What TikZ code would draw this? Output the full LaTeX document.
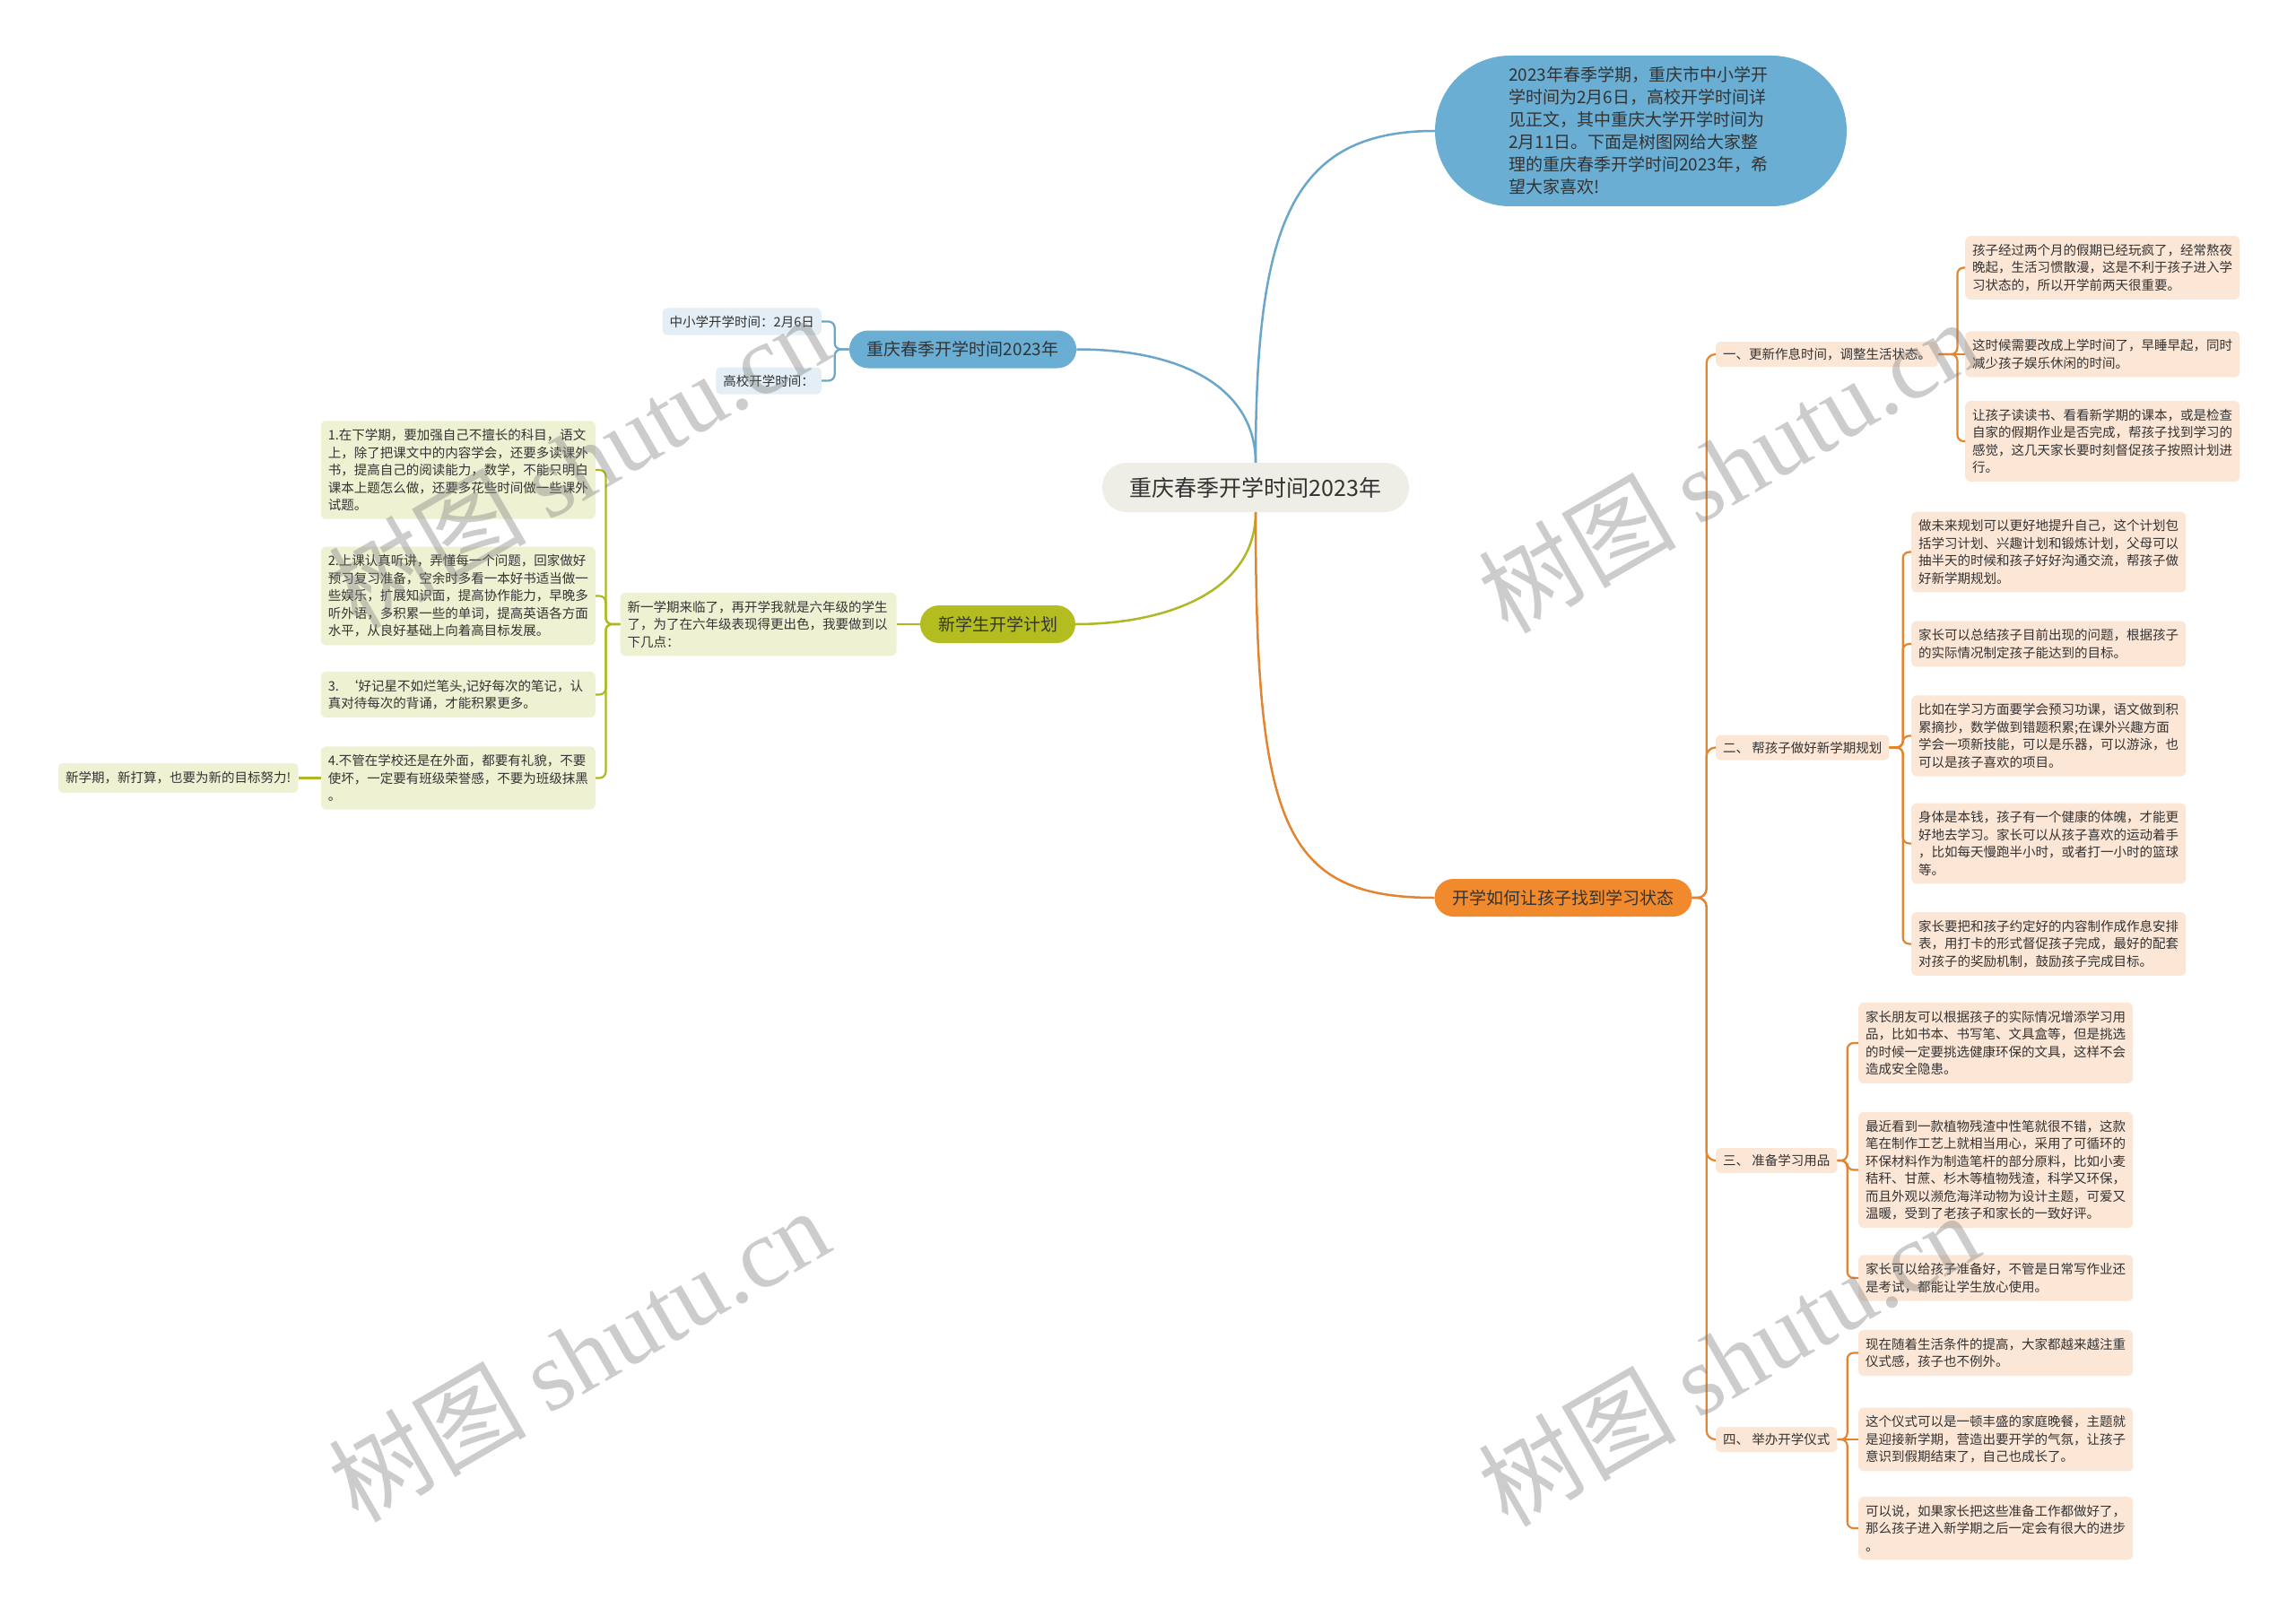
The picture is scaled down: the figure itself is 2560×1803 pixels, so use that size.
\documentclass[tikz,border=0pt]{standalone}
\usepackage{fontspec}
\setmainfont{Noto Sans CJK SC}
\newfontfamily\markfont{Liberation Serif}
\usetikzlibrary{positioning}

\definecolor{ink}{HTML}{333333}
\definecolor{rootfill}{HTML}{EEEDE6}
\definecolor{bluefill}{HTML}{6BAED3}
\definecolor{blueline}{HTML}{6AA6C9}
\definecolor{bluelight}{HTML}{E3EEF6}
\definecolor{greenfill}{HTML}{B4BD1F}
\definecolor{greenline}{HTML}{AFB823}
\definecolor{greenlight}{HTML}{EFF1D3}
\definecolor{orangefill}{HTML}{F08A2D}
\definecolor{orangeline}{HTML}{E3842F}
\definecolor{orangelight}{HTML}{FCE6D6}

\tikzset{
  topic/.style={
    rectangle, rounded corners=27pt, fill=rootfill,
    minimum width=342pt, minimum height=55pt,
    text=ink, font=\fontsize{25}{30}\selectfont
  },
  branch/.style={
    rectangle, rounded corners=21pt, fill=#1,
    inner xsep=20pt, minimum height=42pt, text=ink,
    font=\fontsize{19}{23}\selectfont
  },
  intro/.style={
    rectangle, rounded corners=84pt, fill=bluefill,
    minimum width=459pt, minimum height=168pt,
    text width=295pt, align=left, text=ink,
    font=\fontsize{19}{25}\selectfont
  },
  tag/.style={
    rectangle, rounded corners=5pt, fill=#1,
    inner xsep=8pt, minimum height=30pt, text=ink,
    font=\fontsize{14.5}{19.5}\selectfont
  },
  leaf/.style={
    rectangle, rounded corners=6pt, fill=#1,
    inner xsep=8pt, inner ysep=9pt,
    text width=290pt, align=left, text=ink,
    font=\fontsize{14.5}{19.5}\selectfont
  },
  link/.style={line width=2.5pt, draw=#1},
  brace/.style={line width=2.2pt, draw=#1, rounded corners=7pt},
  watermark/.style={
    text=gray, opacity=0.4, rotate=30,
    font=\fontsize{110}{120}\selectfont
  }
}

\begin{document}
\begin{tikzpicture}[x=1pt, y=-1pt]
  \fill[white] (0,0) rectangle (2560,1803);
  \useasboundingbox (0,0) rectangle (2560,1803);

  % centre and the summary bubble
  \node[topic] (root) at (1400,543.5) {重庆春季开学时间2023年};
  \node[intro] (about) at (1829.5,146) {2023年春季学期，重庆市中小学开\\学时间为2月6日，高校开学时间详\\见正文，其中重庆大学开学时间为\\2月11日。下面是树图网给大家整\\理的重庆春季开学时间2023年，希\\望大家喜欢!};

  % blue branch
  \node[branch=bluefill] (term) at (1073.5,389.5) {重庆春季开学时间2023年};
  \node[tag=bluelight, anchor=east] (primary) at (916,358.5) {中小学开学时间：2月6日};
  \node[tag=bluelight, anchor=east] (college) at (916,424.5) {高校开学时间：};

  % green branch
  \node[branch=greenfill] (plan) at (1112.5,696) {新学生开学计划};
  \node[leaf=greenlight, text width=292pt, left=26pt of plan] (planintro) {新一学期来临了，再开学我就是六年级的学生\\了，为了在六年级表现得更出色，我要做到以\\下几点：};
  \node[leaf=greenlight, anchor=east] (tip1) at (664,524) {1.在下学期，要加强自己不擅长的科目，语文\\上，除了把课文中的内容学会，还要多读课外\\书，提高自己的阅读能力，数学，不能只明白\\课本上题怎么做，还要多花些时间做一些课外\\试题。};
  \node[leaf=greenlight, anchor=east] (tip2) at (664,664.5) {2.上课认真听讲，弄懂每一个问题，回家做好\\预习复习准备，空余时多看一本好书适当做一\\些娱乐，扩展知识面，提高协作能力，早晚多\\听外语，多积累一些的单词，提高英语各方面\\水平，从良好基础上向着高目标发展。};
  \node[leaf=greenlight, anchor=east] (tip3) at (664,774.5) {3. ‘好记星不如烂笔头,记好每次的笔记，认\\真对待每次的背诵，才能积累更多。};
  \node[leaf=greenlight, anchor=east] (tip4) at (664,867.5) {4.不管在学校还是在外面，都要有礼貌，不要\\使坏，一定要有班级荣誉感，不要为班级抹黑\\。};
  \node[tag=greenlight, minimum height=33pt, left=25pt of tip4] (motto) {新学期，新打算，也要为新的目标努力!};

  % orange branch
  \node[branch=orangefill] (howto) at (1743,1001) {开学如何让孩子找到学习状态};
  \node[tag=orangelight, anchor=west, minimum height=28pt] (sched) at (1913,395) {一、更新作息时间，调整生活状态。};
  \node[tag=orangelight, anchor=west, minimum height=28pt] (goals) at (1913,833.5) {二、 帮孩子做好新学期规划};
  \node[tag=orangelight, anchor=west, minimum height=28pt] (supply) at (1913,1294) {三、 准备学习用品};
  \node[tag=orangelight, anchor=west, minimum height=28pt] (ritual) at (1913,1605) {四、 举办开学仪式};

  \node[leaf=orangelight, anchor=west] (sched1) at (2191,298.5) {孩子经过两个月的假期已经玩疯了，经常熬夜\\晚起，生活习惯散漫，这是不利于孩子进入学\\习状态的，所以开学前两天很重要。};
  \node[leaf=orangelight, anchor=west] (sched2) at (2191,395) {这时候需要改成上学时间了，早睡早起，同时\\减少孩子娱乐休闲的时间。};
  \node[leaf=orangelight, anchor=west] (sched3) at (2191,492) {让孩子读读书、看看新学期的课本，或是检查\\自家的假期作业是否完成，帮孩子找到学习的\\感觉，这几天家长要时刻督促孩子按照计划进\\行。};

  \node[leaf=orangelight, anchor=west] (goals1) at (2131,615.5) {做未来规划可以更好地提升自己，这个计划包\\括学习计划、兴趣计划和锻炼计划，父母可以\\抽半天的时候和孩子好好沟通交流，帮孩子做\\好新学期规划。};
  \node[leaf=orangelight, anchor=west] (goals2) at (2131,718) {家长可以总结孩子目前出现的问题，根据孩子\\的实际情况制定孩子能达到的目标。};
  \node[leaf=orangelight, anchor=west] (goals3) at (2131,820.5) {比如在学习方面要学会预习功课，语文做到积\\累摘抄，数学做到错题积累;在课外兴趣方面\\学会一项新技能，可以是乐器，可以游泳，也\\可以是孩子喜欢的项目。};
  \node[leaf=orangelight, anchor=west] (goals4) at (2131,940.5) {身体是本钱，孩子有一个健康的体魄，才能更\\好地去学习。家长可以从孩子喜欢的运动着手\\，比如每天慢跑半小时，或者打一小时的篮球\\等。};
  \node[leaf=orangelight, anchor=west] (goals5) at (2131,1052.5) {家长要把和孩子约定好的内容制作成作息安排\\表，用打卡的形式督促孩子完成，最好的配套\\对孩子的奖励机制，鼓励孩子完成目标。};

  \node[leaf=orangelight, anchor=west] (supply1) at (2072,1163) {家长朋友可以根据孩子的实际情况增添学习用\\品，比如书本、书写笔、文具盒等，但是挑选\\的时候一定要挑选健康环保的文具，这样不会\\造成安全隐患。};
  \node[leaf=orangelight, anchor=west] (supply2) at (2072,1304.5) {最近看到一款植物残渣中性笔就很不错，这款\\笔在制作工艺上就相当用心，采用了可循环的\\环保材料作为制造笔杆的部分原料，比如小麦\\秸秆、甘蔗、杉木等植物残渣，科学又环保，\\而且外观以濒危海洋动物为设计主题，可爱又\\温暖，受到了老孩子和家长的一致好评。};
  \node[leaf=orangelight, anchor=west] (supply3) at (2072,1425) {家长可以给孩子准备好，不管是日常写作业还\\是考试，都能让学生放心使用。};

  \node[leaf=orangelight, anchor=west] (ritual1) at (2072,1508.5) {现在随着生活条件的提高，大家都越来越注重\\仪式感，孩子也不例外。};
  \node[leaf=orangelight, anchor=west] (ritual2) at (2072,1605) {这个仪式可以是一顿丰盛的家庭晚餐，主题就\\是迎接新学期，营造出要开学的气氛，让孩子\\意识到假期结束了，自己也成长了。};
  \node[leaf=orangelight, anchor=west] (ritual3) at (2072,1704) {可以说，如果家长把这些准备工作都做好了，\\那么孩子进入新学期之后一定会有很大的进步\\。};

  % links from the centre
  \draw[link=blueline] (root.north) .. controls (1400,250) and (1440,146) .. (about.west);
  \draw[link=blueline] (term.east) .. controls (1330,389.5) and (1400,440) .. (root.north);
  \draw[link=greenline] (root.south) .. controls (1400,660) and (1300,696) .. (plan.east);
  \draw[link=orangeline] (root.south) .. controls (1400,920) and (1430,1001) .. (howto.west);

  % blue brackets
  \draw[brace=blueline] (term.west) -- ++(-16,0) |- (primary.east);
  \draw[brace=blueline] (term.west) -- ++(-16,0) |- (college.east);

  % green brackets
  \draw[link=greenline, line width=2.2pt] (plan.west) -- (planintro.east);
  \draw[brace=greenline] (planintro.west) -- ++(-16,0) |- (tip1.east);
  \draw[brace=greenline] (planintro.west) -- ++(-16,0) |- (tip2.east);
  \draw[brace=greenline] (planintro.west) -- ++(-16,0) |- (tip3.east);
  \draw[brace=greenline] (planintro.west) -- ++(-16,0) |- (tip4.east);
  \draw[link=greenline, line width=2.2pt] (tip4.west) -- (motto.east);

  % orange brackets
  \draw[brace=orangeline, rounded corners=10pt] (howto.east) -- ++(16,0) |- (sched.west);
  \draw[brace=orangeline, rounded corners=10pt] (howto.east) -- ++(16,0) |- (goals.west);
  \draw[brace=orangeline, rounded corners=10pt] (howto.east) -- ++(16,0) |- (supply.west);
  \draw[brace=orangeline, rounded corners=10pt] (howto.east) -- ++(16,0) |- (ritual.west);

  \draw[brace=orangeline] (sched.east) -- ++(21,0) |- (sched1.west);
  \draw[link=orangeline, line width=2.2pt] (sched.east) -- (sched2.west);
  \draw[brace=orangeline] (sched.east) -- ++(21,0) |- (sched3.west);

  \draw[brace=orangeline] (goals.east) -- ++(15,0) |- (goals1.west);
  \draw[brace=orangeline] (goals.east) -- ++(15,0) |- (goals2.west);
  \draw[brace=orangeline] (goals.east) -- ++(15,0) |- (goals3.west);
  \draw[brace=orangeline] (goals.east) -- ++(15,0) |- (goals4.west);
  \draw[brace=orangeline] (goals.east) -- ++(15,0) |- (goals5.west);

  \draw[brace=orangeline] (supply.east) -- ++(11,0) |- (supply1.west);
  \draw[brace=orangeline] (supply.east) -- ++(11,0) |- (supply2.west);
  \draw[brace=orangeline] (supply.east) -- ++(11,0) |- (supply3.west);

  \draw[brace=orangeline] (ritual.east) -- ++(11,0) |- (ritual1.west);
  \draw[link=orangeline, line width=2.2pt] (ritual.east) -- (ritual2.west);
  \draw[brace=orangeline] (ritual.east) -- ++(11,0) |- (ritual3.west);

  % watermarks
  \node[watermark] (mark1) at (645,514) {树图 {\markfont shutu.cn}};
  \node[watermark] (mark2) at (645,1510) {树图 {\markfont shutu.cn}};
  \node[watermark] (mark3) at (1927,519) {树图 {\markfont shutu.cn}};
  \node[watermark] (mark4) at (1927,1515) {树图 {\markfont shutu.cn}};
\end{tikzpicture}
\end{document}
